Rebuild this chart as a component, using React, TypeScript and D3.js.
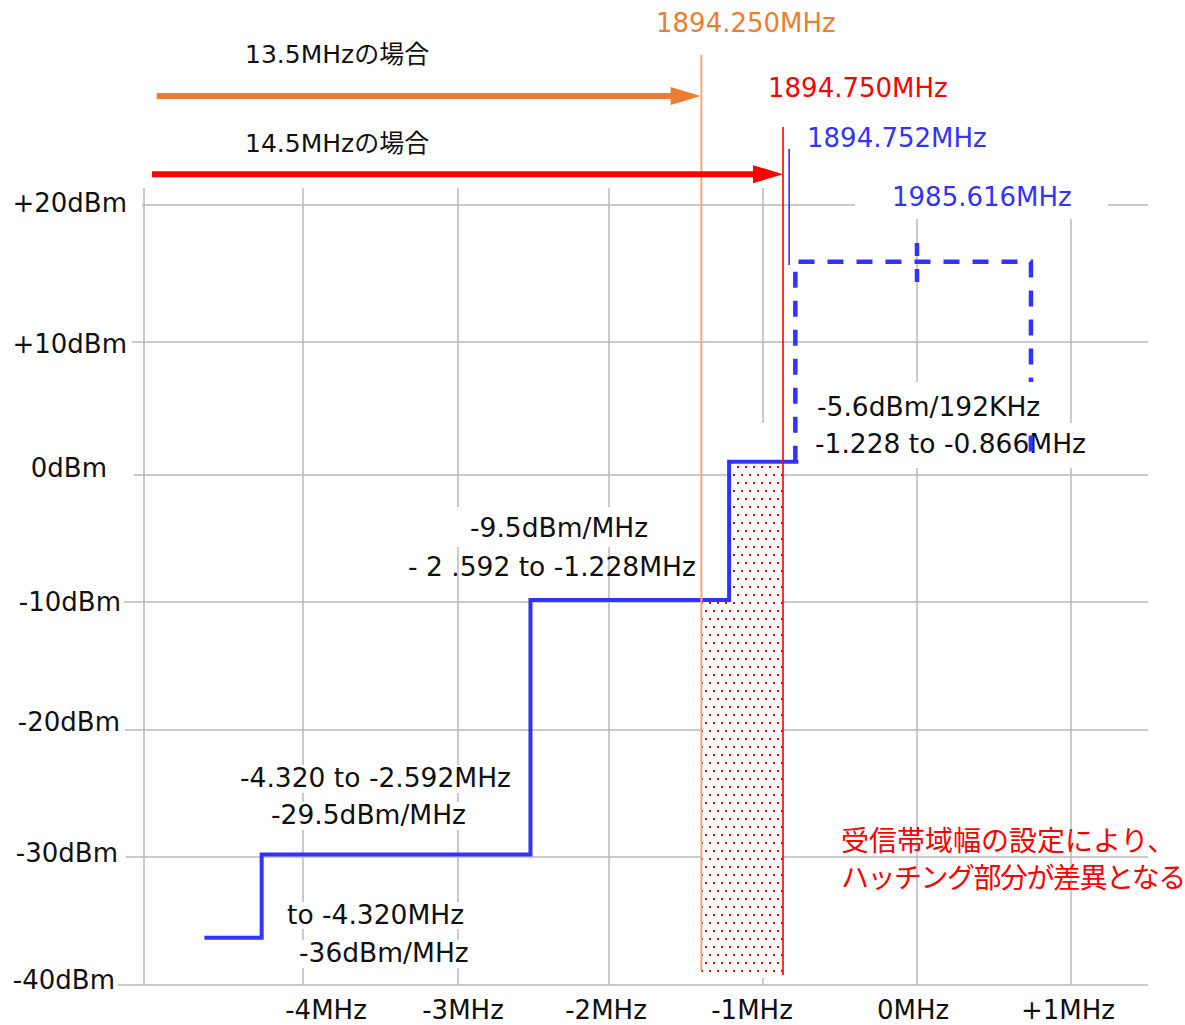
import React from "react";
import * as d3 from "d3";

// ---- axes ----
const freqTicks = [-5, -4, -3, -2, -1, 0, 1];
const freqTickLabels = ["", "-4MHz", "-3MHz", "-2MHz", "-1MHz", "0MHz", "+1MHz"];
const powerTicks = [20, 10, 0, -10, -20, -30, -40];
const powerTickLabels = ["+20dBm", "+10dBm", "0dBm", "-10dBm", "-20dBm", "-30dBm", "-40dBm"];

// ---- spectrum emission mask (step line) ----
const maskEdgesMHz = [-4.62, -4.26, -2.52, -1.22, -0.77];
const maskLevelsDbm = [-36.3, -29.8, -9.85, 1.0];

// ---- 192kHz block (dashed) ----
const blockEdgesMHz = [-0.79, 0.74];
const blockLevelDbm = 15.85;
const blockCenterMHz = 0;
const blockCenterSpanDbm = [17.23, 14.38];

// ---- marker lines ----
const orangeMHz = -1.4; // 1894.250MHz
const redMHz = -0.87; // 1894.750MHz
const blueMHz = -0.83; // 1894.752MHz
const orangeSpanDbm = [30.95, -38.83];
const redSpanDbm = [25.69, -39.22];
const blueSpanDbm = [24.09, 15.62];
const hatchFloorDbm = -39.45;
const arrowStartMHz = [-4.92, -4.95];
const arrowLevelDbm = [27.95, 22.25];
const gridTopDbm = 21.24;
const gridRightMHz = 1.5;

// ---- layout (scale calibration and label nudges) ----
const freqScaleDomain = [-5, -4, -3, -2, -1, 0, 1.5];
const freqScaleRange = [144, 303, 458, 609, 763, 917, 1148];
const powerScaleDomain = [-40, -30, -20, -10, 0, 10, 20];
const powerScaleRange = [985, 857, 730, 602, 475, 342, 205];
const hGridLeft = [142, 132, 134, 124, 125, 126, 118];
const yLabelRight = [127, 127, 107, 121, 120, 118, 115];
const yLabelDy = [7, 11, 2, 9, 1, 5, 4];
const xLabelDx = [0, 23, 5, -3, -11, -4, -3];

const FONT = "'DejaVu Sans', 'Noto Sans CJK JP', sans-serif";
const BLUE = "#3333ff";
const ORANGE = "#ed7d31";
const RED = "#ff0000";
const GRID = "#b8b8b8";
const INK = "#111";

export default function App() {
  const W = 1185;
  const H = 1025;
  const x = d3.scaleLinear().domain(freqScaleDomain).range(freqScaleRange);
  const y = d3.scaleLinear().domain(powerScaleDomain).range(powerScaleRange);

  const stepPts: [number, number][] = maskEdgesMHz.map((f, i) => [
    f,
    maskLevelsDbm[Math.min(i, maskLevelsDbm.length - 1)],
  ]);
  const stepPath = d3
    .line<[number, number]>()
    .x((d) => x(d[0]))
    .y((d) => y(d[1]))
    .curve(d3.curveStepAfter)(stepPts) as string;

  const levelAt = (f: number) =>
    maskLevelsDbm[Math.min(Math.max(d3.bisectRight(maskEdgesMHz, f) - 1, 0), maskLevelsDbm.length - 1)];
  const hatchFreqs = [orangeMHz, ...maskEdgesMHz.filter((e) => e > orangeMHz && e < redMHz), redMHz];
  const hatchPts: [number, number][] = hatchFreqs.map((f) => [f, levelAt(f)]);
  const hatchPath = d3
    .area<[number, number]>()
    .x((d) => x(d[0]))
    .y0(y(hatchFloorDbm))
    .y1((d) => y(d[1]))
    .curve(d3.curveStepAfter)(hatchPts) as string;

  const topLevel = maskLevelsDbm[maskLevelsDbm.length - 1];
  const blockPts: [number, number][] = [
    [blockEdgesMHz[0], topLevel],
    [blockEdgesMHz[0], blockLevelDbm],
    [blockEdgesMHz[1], blockLevelDbm],
    [blockEdgesMHz[1], topLevel],
  ];
  const blockPath = d3
    .line<[number, number]>()
    .x((d) => x(d[0]))
    .y((d) => y(d[1]))(blockPts) as string;

  const arrow = (fromMHz: number, toMHz: number, lvl: number, color: string) => {
    const x0 = x(fromMHz);
    const x1 = x(toMHz);
    const yy = y(lvl);
    const head = 30;
    return (
      <g>
        <line x1={x0} x2={x1 - head + 2} y1={yy} y2={yy} stroke={color} strokeWidth={6} />
        <path d={`M${x1},${yy} L${x1 - head},${yy - 9} L${x1 - head},${yy + 9} Z`} fill={color} />
      </g>
    );
  };

  const txt = (
    s: string,
    px: number,
    py: number,
    opts: { size?: number; fill?: string; anchor?: string } = {}
  ) => (
    <text
      x={px}
      y={py}
      fontSize={opts.size ?? 26.5}
      fill={opts.fill ?? INK}
      textAnchor={opts.anchor ?? "start"}
      style={{ whiteSpace: "pre" }}
    >
      {s}
    </text>
  );

  const bg = (x0: number, y0: number, x1: number, y1: number) => (
    <rect x={x0} y={y0} width={x1 - x0} height={y1 - y0} fill="#fff" />
  );

  return (
    <svg
      width={W}
      height={H}
      viewBox={`0 0 ${W} ${H}`}
      style={{ position: "absolute", left: 0, top: 0, background: "#fff" }}
      fontFamily={FONT}
    >
      <defs>
        <pattern id="dots" width={8} height={16} patternUnits="userSpaceOnUse">
          <rect width={8} height={16} fill="#fff" />
          <rect x={1} y={2} width={2} height={2} fill={RED} />
          <rect x={5} y={10} width={2} height={2} fill={RED} />
        </pattern>
      </defs>
      <rect width={W} height={H} fill="#fff" />

      {/* grid */}
      <g stroke={GRID} strokeWidth={1.5}>
        {powerTicks.map((v, i) => (
          <line key={"h" + v} x1={hGridLeft[i]} x2={x(gridRightMHz)} y1={y(v)} y2={y(v)} />
        ))}
        {freqTicks.map((f) => (
          <line key={"v" + f} x1={x(f)} x2={x(f)} y1={y(gridTopDbm)} y2={y(-40)} />
        ))}
      </g>

      {/* labels with opaque backgrounds (behind data) */}
      {bg(855, 180, 1108, 219)}
      {txt("1985.616MHz", 892, 206, { size: 26, fill: BLUE })}

      {bg(755, 423, 1095, 468)}
      {txt("-1.228 to -0.866MHz", 815, 453)}

      {bg(440, 507, 690, 547)}
      {txt("-9.5dBm/MHz", 470, 537)}
      {txt("- 2 .592 to -1.228MHz", 408, 576)}

      {bg(238, 765, 515, 793)}
      {txt("-4.320 to -2.592MHz", 240, 787)}
      {bg(268, 802, 470, 830)}
      {txt("-29.5dBm/MHz", 271, 824)}
      {bg(284, 902, 466, 929)}
      {txt("to -4.320MHz", 287, 924)}
      {bg(296, 940, 471, 968)}
      {txt("-36dBm/MHz", 299, 962)}

      {/* hatched difference area */}
      <path d={hatchPath} fill="url(#dots)" />

      {/* mask step line */}
      <path d={stepPath} fill="none" stroke={BLUE} strokeWidth={4} />

      {/* marker lines */}
      <line x1={x(orangeMHz)} x2={x(orangeMHz)} y1={y(orangeSpanDbm[0])} y2={y(orangeSpanDbm[1])} stroke="#f4a877" strokeWidth={2} />
      <line x1={x(redMHz)} x2={x(redMHz)} y1={y(redSpanDbm[0])} y2={y(redSpanDbm[1])} stroke={RED} strokeWidth={1.6} />
      <line x1={x(blueMHz)} x2={x(blueMHz)} y1={y(blueSpanDbm[0])} y2={y(blueSpanDbm[1])} stroke={BLUE} strokeWidth={1.6} />

      {/* arrows */}
      {arrow(arrowStartMHz[0], orangeMHz - 0.005, arrowLevelDbm[0], ORANGE)}
      {arrow(arrowStartMHz[1], redMHz, arrowLevelDbm[1], RED)}

      {/* 192kHz block */}
      <path d={blockPath} fill="none" stroke={BLUE} strokeWidth={4.5} strokeDasharray="16 13" />
      <line
        x1={x(blockCenterMHz)}
        x2={x(blockCenterMHz)}
        y1={y(blockCenterSpanDbm[0])}
        y2={y(blockCenterSpanDbm[1])}
        stroke={BLUE}
        strokeWidth={4.5}
        strokeDasharray="13 13"
      />

      {bg(805, 382, 1050, 432)}
      {txt("-5.6dBm/192KHz", 817, 416)}

      {/* axis labels */}
      {powerTicks.map((v, i) => (
        <text key={"yl" + v} x={yLabelRight[i]} y={y(v) + yLabelDy[i]} fontSize={26} textAnchor="end" fill={INK}>
          {powerTickLabels[i]}
        </text>
      ))}
      {freqTicks.map((f, i) =>
        freqTickLabels[i] ? (
          <text key={"xl" + f} x={x(f) + xLabelDx[i]} y={1019} fontSize={26} textAnchor="middle" fill={INK}>
            {freqTickLabels[i]}
          </text>
        ) : null
      )}

      {/* top annotations */}
      {txt("13.5MHzの場合", 245, 63, { size: 25 })}
      {txt("14.5MHzの場合", 245, 152, { size: 25 })}
      {txt("1894.250MHz", 656, 32, { size: 26, fill: ORANGE })}
      {txt("1894.750MHz", 768, 97, { size: 26, fill: RED })}
      {txt("1894.752MHz", 807, 147, { size: 26, fill: BLUE })}

      {/* note */}
      <text x={841} y={851} fontSize={28} fill={RED} fontFamily="'Noto Sans CJK JP', sans-serif">
        受信帯域幅の設定により、
      </text>
      <text
        x={841}
        y={888}
        fontSize={28}
        fill={RED}
        letterSpacing={-1.5}
        fontFamily="'Noto Sans CJK JP', sans-serif"
      >
        ハッチング部分が差異となる
      </text>
    </svg>
  );
}
